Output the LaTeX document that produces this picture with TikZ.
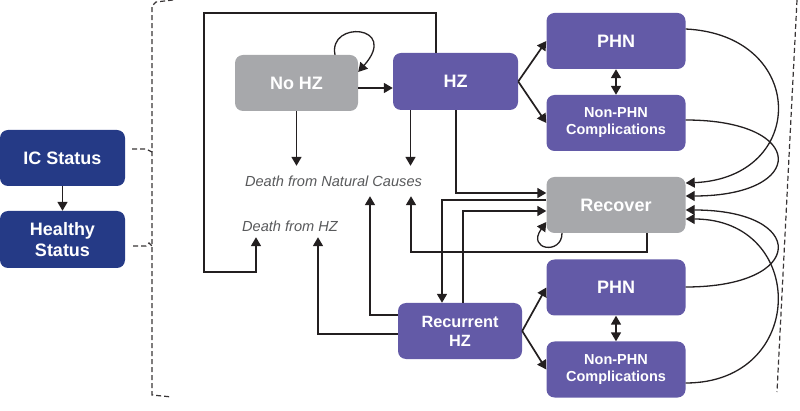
\documentclass[tikz,border=0pt]{standalone}
\usepackage{fontspec}
\setmainfont{Liberation Sans}
\usetikzlibrary{arrows.meta}
\definecolor{navyc}{HTML}{253A86}
\definecolor{purplec}{HTML}{635AA7}
\definecolor{grayc}{HTML}{A7A8AB}
\definecolor{linec}{HTML}{231F20}
\definecolor{textgray}{HTML}{58595B}
\begin{document}
\begin{tikzpicture}[x=1pt,y=-1pt,
  box/.style={rounded corners=8pt, inner sep=0pt, text=white, align=center},
  navybox/.style={box, fill=navyc, font=\bfseries\fontsize{18}{21}\selectfont},
  graybox/.style={box, fill=grayc, font=\bfseries\fontsize{18}{21}\selectfont},
  purplebox/.style={box, fill=purplec, font=\bfseries\fontsize{18}{21}\selectfont},
  smallbox/.style={box, fill=purplec, font=\bfseries\fontsize{14.5}{17}\selectfont},
  sidebox/.style={minimum width=139pt, minimum height=56pt},
  deathtext/.style={inner sep=0pt, text=textgray, font=\itshape\fontsize{14.6}{17}\selectfont},
  arr/.style={draw=linec, line width=1.7pt, -{Triangle[length=9pt,width=10pt]}},
  thinarr/.style={draw=linec, line width=1.3pt, -{Triangle[length=9pt,width=10pt]}},
  dblarr/.style={draw=linec, line width=1.7pt, {Triangle[length=9pt,width=10pt]}-{Triangle[length=9pt,width=10pt]}},
  dashline/.style={draw=linec!90, line width=1.2pt, dash pattern=on 5pt off 3pt}
]
\useasboundingbox (0,0) rectangle (800,411);

% nodes
\node[navybox, minimum width=125pt, minimum height=56pt] (ic) at (62.5,158) {IC Status};
\node[navybox, minimum width=125pt, minimum height=57pt] (hs) at (62.5,239.5) {Healthy\\Status};
\node[graybox, minimum width=123pt, minimum height=56pt] (nohz) at (296.5,83) {No HZ};
\node[purplebox, minimum width=125pt, minimum height=57pt] (hz) at (455.5,81.5) {HZ};
\node[purplebox, sidebox] (phn1) at (616,41) {PHN};
\node[smallbox, sidebox] (np1) at (616,123) {Non-PHN\\Complications};
\node[graybox, sidebox] (rec) at (616,205) {Recover};
\node[purplebox, sidebox] (phn2) at (616,287.5) {PHN};
\node[smallbox, sidebox] (np2) at (616,369.5) {Non-PHN\\Complications};
\node[purplebox, minimum width=124pt, minimum height=56pt, font=\bfseries\fontsize{16.3}{19}\selectfont] (rhz) at (460,331) {Recurrent\\HZ};
\node[deathtext, minimum height=30pt] (dnat) at (333.5,181) {Death from Natural Causes};
\node[deathtext, minimum height=22pt] (dhz) at (290,226) {Death from HZ};

% dashed brackets
\coordinate (btop) at (173,0);
\coordinate (bbot) at (172,397);
\coordinate (bj1) at (152,152);
\coordinate (bj2) at (152,246);
\draw[dashline] (btop) -- (156,2) -- (152,6) -- (152,395) -- (bbot);
\draw[dashline] ([xshift=7pt,yshift=9pt]ic.east) -- (146,149) -- (bj1);
\draw[dashline] ([xshift=8pt,yshift=-6.5pt]hs.east) -- (146,246) -- (149,243) -- (bj2);
\coordinate (rtop) at (797,0);
\coordinate (rbot) at (777,392);
\draw[dashline] (rtop) -- (rbot);

% status arrow
\draw[arr] (ic) -- (hs);

% No HZ
\draw[thinarr] ([xshift=38.5pt]nohz.north) .. controls (328,20) and (400,25) .. ([yshift=11pt]nohz.east);
\draw[arr] ([yshift=-5pt]nohz.east) -- ([yshift=-5pt]nohz.east -| hz.west);
\draw[arr] (nohz.south) -- (nohz.south |- dnat.north);

% HZ
\draw[arr] ([xshift=-45pt]hz.south) -- ([xshift=-45pt]hz.south |- dnat.north);
\coordinate (lt) at (204,13);
\coordinate (lb) at (204,272);
\draw[arr] ([xshift=-19.5pt]hz.north) |- (lt) -- (lb) -| ([xshift=-34pt]dhz.south);
\draw[arr] ([xshift=0.5pt]hz.south) |- ([yshift=12pt]rec.west);
\draw[arr] (hz.east) -- (phn1.west);
\draw[arr] (hz.east) -- (np1.west);
\draw[dblarr] (phn1.south) -- (np1.north);

% complications to recover
\draw[thinarr] ([yshift=12pt]phn1.east) .. controls +(122,6) and +(122.5,-5) .. ([yshift=22pt]rec.east);
\draw[thinarr] ([yshift=3pt]np1.east) .. controls +(122,0) and +(122,0) .. ([yshift=9pt]rec.east);
\draw[thinarr] ([yshift=0.5pt]phn2.east) .. controls +(122,0) and +(122,0) .. ([yshift=-5pt]rec.east);
\draw[thinarr] ([yshift=-13.5pt]np2.east) .. controls +(122,0) and +(122,0) .. ([yshift=-14pt]rec.east);

% Recover
\draw[thinarr] ([xshift=-54pt]rec.south) .. controls +(0,22) and +(-20,28) .. ([yshift=-17pt]rec.west);
\draw[arr] ([xshift=31pt]rec.south) -- ++(0,19) -| ([xshift=77.5pt]dnat.south);
\draw[arr] ([yshift=5pt]rec.west) -| ([xshift=-18pt]rhz.north);

% Recurrent HZ
\draw[arr] ([xshift=3pt]rhz.north) |- ([yshift=-6pt]rec.west);
\draw[arr] ([yshift=16pt]rhz.west) -| ([xshift=36.5pt]dnat.south);
\draw[arr] ([yshift=-3pt]rhz.west) -| ([xshift=28pt]dhz.south);
\draw[arr] (rhz.east) -- (phn2.west);
\draw[arr] (rhz.east) -- (np2.west);
\draw[dblarr] (phn2.south) -- (np2.north);
\end{tikzpicture}
\end{document}
